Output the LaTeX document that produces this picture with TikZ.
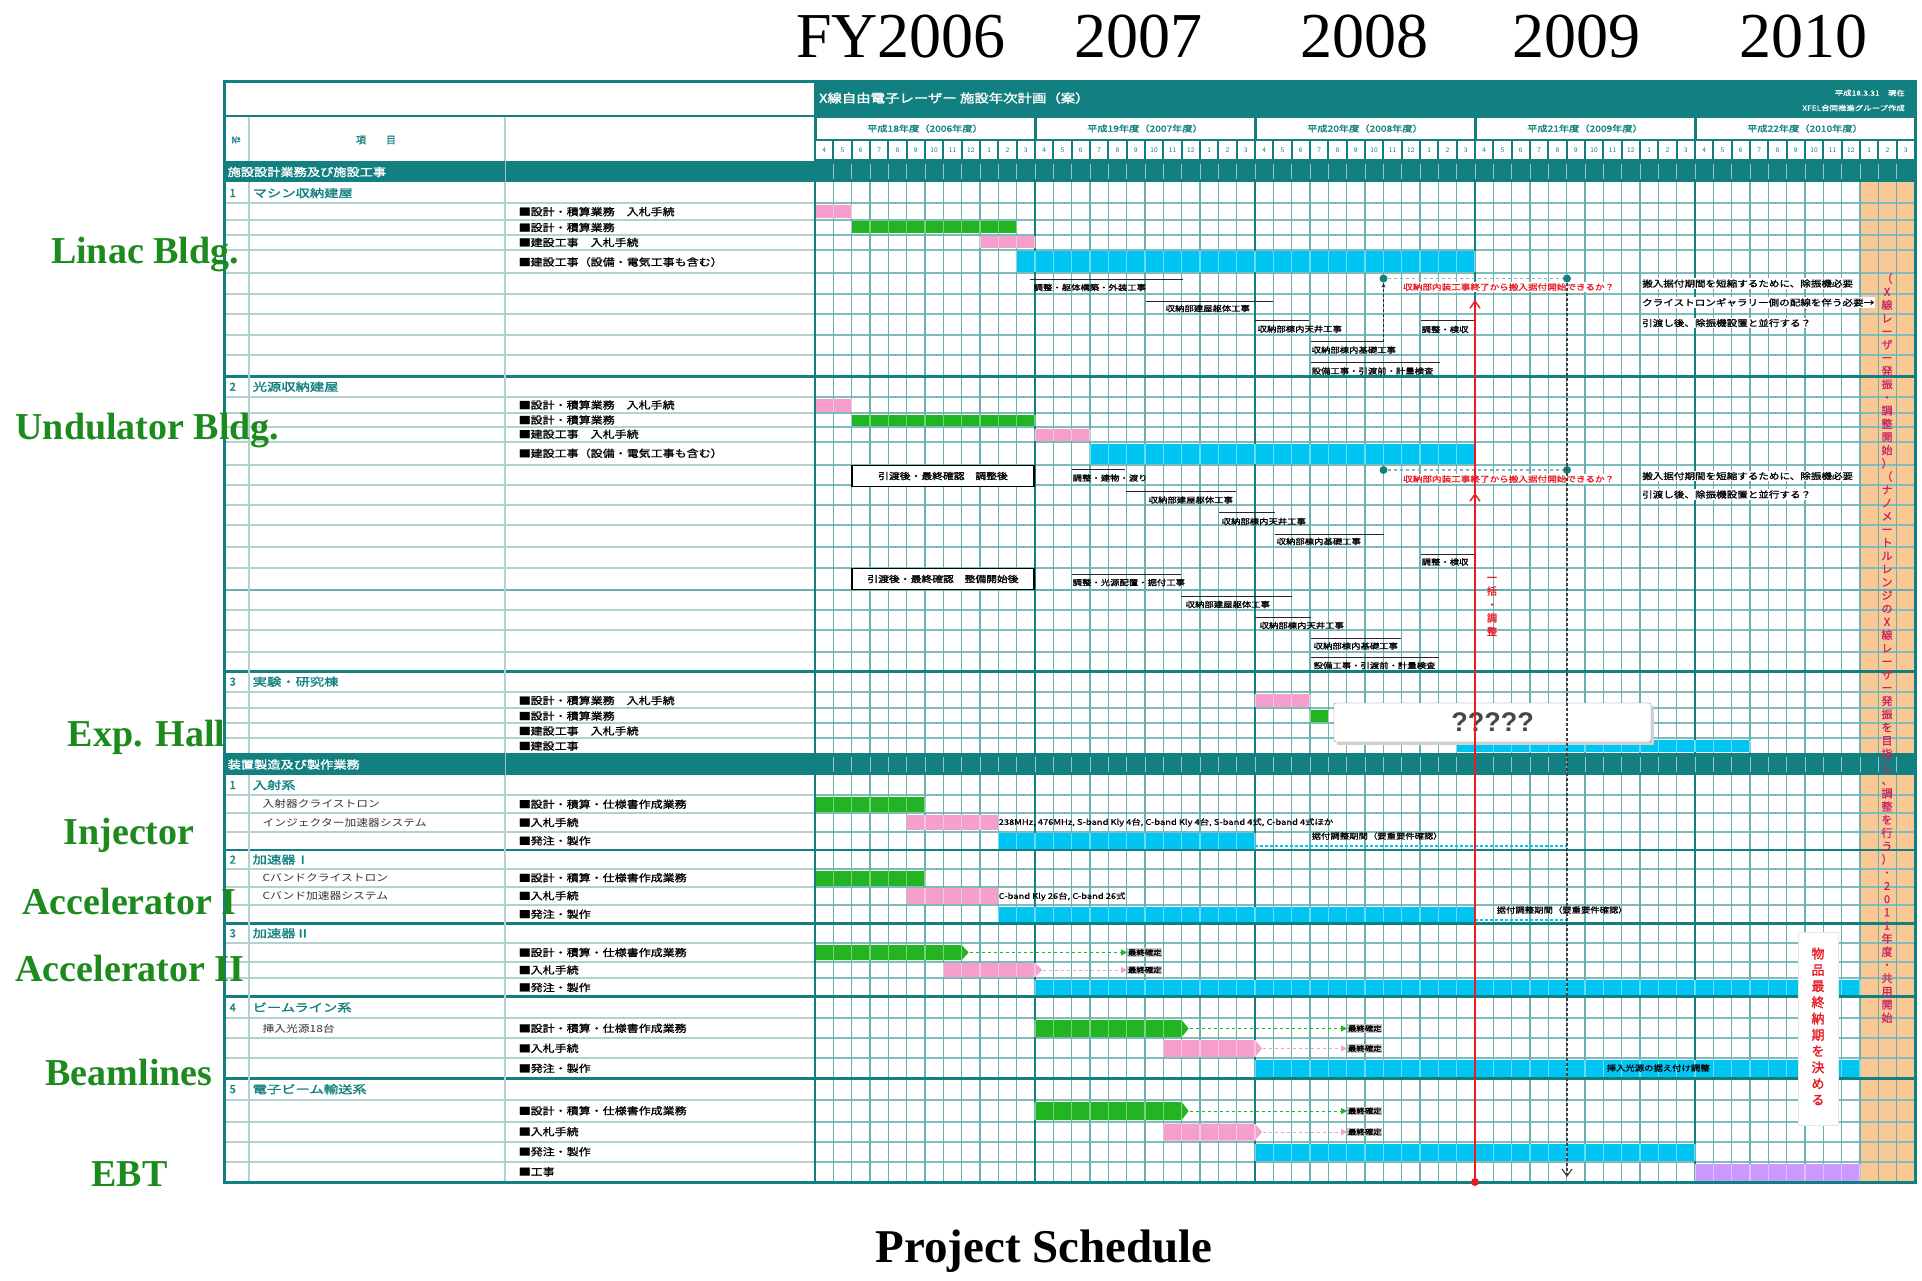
\documentclass[tikz,border=0pt]{standalone}
\usepackage{fontspec}
\setmainfont{Liberation Serif}
\newfontfamily\jp{Noto Sans CJK JP}
\newfontfamily\jpm[FakeBold=1]{Noto Sans CJK JP}
\newfontfamily\jpb[FakeBold=1.6]{Noto Sans CJK JP}
\newfontfamily\arial{Liberation Sans}
\usetikzlibrary{arrows.meta}
\definecolor{tealc}{RGB}{18,128,128}
\definecolor{gridc}{RGB}{105,176,176}
\definecolor{rowc}{RGB}{178,210,210}
\definecolor{pinkc}{RGB}{246,158,204}
\definecolor{greenc}{RGB}{34,180,34}
\definecolor{cyanc}{RGB}{0,196,242}
\definecolor{orangec}{RGB}{250,200,148}
\definecolor{purplec}{RGB}{204,153,255}
\definecolor{labgreen}{RGB}{28,138,28}
\definecolor{redc}{RGB}{232,28,36}
\definecolor{magc}{RGB}{200,36,100}
\newcommand\M[1]{{815+(#1)*18.3333}}
\newcommand\Mp[2]{{815+(#1)*18.3333+(#2)}}
\newcommand\sx[2][1.2]{\scalebox{#1}[1]{#2}}
\ExplSyntaxOn
\NewDocumentCommand \vstack { O{0.1em} m }
  {
    \vbox:n
      {
        \offinterlineskip
        \tl_map_inline:nn {#2}
          {
            \hbox_to_wd:nn {1.1em} { \hss \rule[-0.15em]{0pt}{1.05em} ##1 \hss }
            \skip_vertical:n {#1}
          }
      }
  }
\ExplSyntaxOff
\newcommand\gb[5]{\fill[#5] (\M{#1},#3) rectangle (\M{#2},#4);
  \foreach \k in {#1,...,#2} \draw[white, opacity=0.4, line width=1.1pt] (\M{\k},#3) -- (\M{\k},#4);}
\newcommand\tb[5]{\fill[#5] (\M{#1},#3) -- (\M{#2},#3) -- (\Mp{#2}{7},{(#3+#4)/2}) -- (\M{#2},#4) -- (\M{#1},#4) -- cycle;
  \foreach \k in {#1,...,#2} \draw[white, opacity=0.4, line width=1.1pt] (\M{\k},#3) -- (\M{\k},#4);}
\newcommand\ul[7]{\draw[ulline] (#1,#3) -- (#2,#3); \node[ulj] (#6) at (#4,#5) {\sx{#7}};}
\begin{document}
\begin{tikzpicture}[x=1pt,y=-1pt,
  lab/.style={font=\fontsize{38}{38}\selectfont\bfseries, text=labgreen, inner sep=0pt, anchor=base},
  yearst/.style={font=\fontsize{64}{64}\selectfont, inner sep=0pt, anchor=base},
  jpt/.style={font=\jpm\fontsize{10}{10}\selectfont, inner sep=0.5pt, anchor=west},
  subt/.style={font=\jp\fontsize{9.8}{9.8}\selectfont, text=black!80, inner sep=0.5pt, anchor=west},
  sect/.style={font=\jpb\fontsize{11}{11}\selectfont, text=tealc, inner sep=0.5pt, anchor=west},
  bandt/.style={font=\jpb\fontsize{11}{11}\selectfont, text=white, inner sep=0.5pt, anchor=west},
  ulj/.style={font=\jpm\fontsize{7.8}{7.8}\selectfont, inner sep=0.5pt, anchor=west},
  ulline/.style={black!85, line width=0.9pt},
  notet/.style={font=\jpm\fontsize{8.8}{8.8}\selectfont, fill=white, inner sep=1pt, anchor=west},
  redt/.style={font=\jpm\fontsize{8}{8}\selectfont, text=redc, fill=white, inner sep=1pt, anchor=west},
  fin/.style={font=\jpb\fontsize{7}{7}\selectfont, fill=black!22, inner sep=0.8pt, anchor=west},
  garr/.style={greenc, dashed, line width=1pt, -{Triangle[length=6pt,width=6pt]}},
  parr/.style={pinkc, dashed, line width=1pt, -{Triangle[length=6pt,width=6pt]}},
  tdot/.style={circle, fill=tealc, minimum size=8pt, inner sep=0pt},
  tick/.style={white!55!tealc, line width=1pt}
]
\useasboundingbox (0,0) rectangle (1922,1281);
\fill[white] (0,0) rectangle (1922,1281);

% orange column
\fill[orangec] (\M{57},182) rectangle (1915,1182);

% row lines
\foreach \y in {203.3,220,235,250,273.3,294,314,335,355,396.7,413.3,426.7,441.7,465,485,505,525,546.7,568.3,610,630,651.7,691.7,708.3,723.3,738.3,795,813.3,831.7,869,886.7,905,943.3,961.7,978.3,1018.3,1038.3,1058.3,1100,1121.7,1141.7,1161.7}
  {\draw[rowc, line width=2pt] (224,\y) -- (815,\y);
   \draw[gridc!85, line width=1.7pt] (815,\y) -- (1915,\y);}
\draw[gridc, line width=2.4pt] (224,590) -- (1915,590);

% month grid
\foreach \m in {1,...,59} \draw[gridc, line width=1.4pt] (\M{\m},182) -- (\M{\m},1182);
\foreach \k in {12,24,36,48} \draw[tealc, line width=2.2pt] (\M{\k},182) -- (\M{\k},1182);

% bars: section 1
\gb{0}{2}{205}{218.5}{pinkc}
\gb{2}{11}{221.5}{233.5}{greenc}
\gb{9}{12}{236.5}{248.5}{pinkc}
\gb{11}{36}{251.5}{272}{cyanc}
% section 2
\gb{0}{2}{399}{411.5}{pinkc}
\gb{2}{12}{415}{425.5}{greenc}
\gb{12}{15}{429}{440.5}{pinkc}
\gb{15}{36}{443.5}{463.5}{cyanc}
% section 3
\gb{24}{27}{693.5}{707}{pinkc}
\gb{27}{28}{710}{722}{greenc}
\gb{35}{51}{739.5}{752}{cyanc}
% injector
\gb{0}{6}{797}{812}{greenc}
\gb{5}{10}{815}{830}{pinkc}
\gb{10}{24}{833}{848.5}{cyanc}
% accelerator I
\gb{0}{6}{870.5}{885.5}{greenc}
\gb{5}{10}{888}{903.5}{pinkc}
\gb{10}{36}{906.5}{922}{cyanc}
% accelerator II
\tb{0}{8}{945}{960}{greenc}
\tb{7}{12}{963}{977}{pinkc}
\gb{12}{57}{979.5}{995.5}{cyanc}
% beamlines
\tb{12}{20}{1020}{1037}{greenc}
\tb{19}{24}{1040}{1057}{pinkc}
\gb{24}{57}{1060}{1077}{cyanc}
% EBT
\tb{12}{20}{1102}{1120}{greenc}
\tb{19}{24}{1123.5}{1140.5}{pinkc}
\gb{24}{48}{1143.5}{1160.5}{cyanc}
\gb{48}{57}{1163.5}{1180.5}{purplec}

% dashed cyan continuations
\coordinate (ic1) at (\M{24},846);
\coordinate (ic2) at (\M{41},846);
\draw[cyanc, densely dashed, line width=1.6pt] (ic1) -- (ic2);
\coordinate (ac1) at (\M{36},920);
\coordinate (ac2) at (\M{41},920);
\draw[cyanc, densely dashed, line width=1.6pt] (ac1) -- (ac2);

% section lines
\foreach \y in {376.7,671.7,850,923.3,996.7,1078.3} \draw[tealc, line width=2.6pt] (224,\y) -- (1915,\y);

% column lines
\draw[rowc, line width=2pt] (249,116) -- (249,1182);
\draw[rowc, line width=2pt] (505,116) -- (505,1182);
\draw[tealc, line width=2.4pt] (815,82) -- (815,1182);

% bands
\fill[tealc] (224,161) rectangle (1915,182);
\fill[tealc] (224,753.3) rectangle (1915,775);
\foreach \m in {1,...,59} {\draw[tick] (\M{\m},164) -- (\M{\m},179); \draw[tick] (\M{\m},756.5) -- (\M{\m},772);}
\draw[tick] (505,161) -- (505,182);
\draw[tick] (505,753.3) -- (505,775);

% header
\fill[tealc] (815,82) rectangle (1915,161);
\foreach \k in {0,...,4} \fill[white] ({815+220*\k+1.5},118) rectangle ({815+220*(\k+1)-1.5},139);
\foreach \m in {0,...,59} \fill[white] (\Mp{\m}{1},141.5) rectangle (\Mp{\m+1}{-1},159.5);
\draw[tealc, line width=2.2pt] (224,116) -- (815,116);

% frame
\draw[tealc, line width=3pt] (224,82) rectangle (1915,1182);

% header texts
\node[font=\jpb\fontsize{12}{12}\selectfont, text=white, anchor=west, inner sep=0pt] (title) at (819,98) {\sx{X線自由電子レーザー 施設年次計画（案）}};
\node[font=\jpm\fontsize{7}{7}\selectfont, text=white, anchor=east, inner sep=0pt] (date) at (1905,93) {\sx{平成18.3.31　現在}};
\node[font=\jpm\fontsize{7}{7}\selectfont, text=white, anchor=east, inner sep=0pt] (grp) at (1905,108) {\sx{XFEL合同推進グループ作成}};
\foreach \k in {0,...,4} {
  \pgfmathtruncatemacro\hy{18+\k}
  \pgfmathtruncatemacro\fy{2006+\k}
  \node[font=\jpb\fontsize{8.5}{8.5}\selectfont, text=tealc, inner sep=0pt] (fy\k) at ({925+220*\k},128.5) {\sx{平成\hy 年度（\fy 年度）}};
}
\foreach \m in {0,...,59} {
  \pgfmathtruncatemacro\mo{mod(\m+3,12)+1}
  \node[font=\sffamily\fontsize{7}{7}\selectfont, text=tealc, inner sep=0pt] (mo\m) at (\Mp{\m}{9.17},150.5) {\mo};
}
\node[font=\jpb\fontsize{9}{9}\selectfont, text=tealc, inner sep=0pt] (no) at (236,140) {№};
\node[font=\jpb\fontsize{10}{10}\selectfont, text=tealc, inner sep=0pt] (item) at (376,140) {項　　目};
\node[bandt] (b1) at (227,172) {\sx{施設設計業務及び施設工事}};
\node[bandt] (b2) at (227,764.5) {\sx{装置製造及び製作業務}};

% section headers
\node[sect] (s1a) at (229,193) {1};      \node[sect] (s1) at (252,193) {\sx[1.3]{マシン収納建屋}};
\node[sect] (s2a) at (229,386.7) {2};    \node[sect] (s2) at (252,386.7) {\sx[1.3]{光源収納建屋}};
\node[sect] (s3a) at (229,681.7) {3};    \node[sect] (s3) at (252,681.7) {\sx[1.3]{実験・研究棟}};
\node[sect] (s4a) at (229,785) {1};      \node[sect] (s4) at (252,785) {\sx[1.3]{入射系}};
\node[sect] (s5a) at (229,859.5) {2};    \node[sect] (s5) at (252,859.5) {\sx[1.3]{加速器Ⅰ}};
\node[sect] (s6a) at (229,933.3) {3};    \node[sect] (s6) at (252,933.3) {\sx[1.3]{加速器Ⅱ}};
\node[sect] (s7a) at (229,1007.5) {4};   \node[sect] (s7) at (252,1007.5) {\sx[1.3]{ビームライン系}};
\node[sect] (s8a) at (229,1089.2) {5};   \node[sect] (s8) at (252,1089.2) {\sx[1.3]{電子ビーム輸送系}};

% sub items
\node[subt] (i1) at (262,804.2) {\sx{入射器クライストロン}};
\node[subt] (i2) at (262,822.5) {\sx{インジェクター加速器システム}};
\node[subt] (i3) at (262,877.8) {\sx{Cバンドクライストロン}};
\node[subt] (i4) at (262,895.8) {\sx{Cバンド加速器システム}};
\node[subt] (i5) at (262,1028.3) {\sx{挿入光源18台}};

% description items
\node[jpt] (a1) at (518,211.7) {\sx{■設計・積算業務　入札手続}};
\node[jpt] (a2) at (518,227.5) {\sx{■設計・積算業務}};
\node[jpt] (a3) at (518,242.5) {\sx{■建設工事　入札手続}};
\node[jpt] (a4) at (518,262) {\sx{■建設工事（設備・電気工事も含む）}};
\node[jpt] (c1) at (518,405) {\sx{■設計・積算業務　入札手続}};
\node[jpt] (c2) at (518,420) {\sx{■設計・積算業務}};
\node[jpt] (c3) at (518,434.2) {\sx{■建設工事　入札手続}};
\node[jpt] (c4) at (518,453.3) {\sx{■建設工事（設備・電気工事も含む）}};
\node[jpt] (e1) at (518,700.5) {\sx{■設計・積算業務　入札手続}};
\node[jpt] (e2) at (518,716) {\sx{■設計・積算業務}};
\node[jpt] (e3) at (518,731) {\sx{■建設工事　入札手続}};
\node[jpt] (e4) at (518,746) {\sx{■建設工事}};
\foreach \n/\y in {j/804.2, k/877.8, l/952.5, m/1028.3, n/1110.8} {
  \node[jpt] (\n1) at (518,\y) {\sx{■設計・積算・仕様書作成業務}};
}
\foreach \n/\y in {j/822.5, k/895.8, l/970, m/1048.3, n/1131.7} {
  \node[jpt] (\n2) at (518,\y) {\sx{■入札手続}};
}
\foreach \n/\y in {j/840.8, k/914.2, l/987.5, m/1068.3, n/1151.7} {
  \node[jpt] (\n3) at (518,\y) {\sx{■発注・製作}};
}
\node[jpt] (n4) at (518,1171.7) {\sx{■工事}};

% gantt annotations: section 1
\ul{1030}{1183}{279.3}{1033}{287.5}{u1}{調整・躯体構築・外装工事}
\ul{1146}{1273}{301}{1165}{308.5}{u2}{収納部建屋躯体工事}
\ul{1255}{1309}{320}{1257}{329}{u3}{収納部棟内天井工事}
\ul{1311}{1384}{341.7}{1311}{350}{u4}{収納部棟内基礎工事}
\ul{1311}{1440}{362.7}{1311}{371}{u5}{設備工事・引渡前・計量検査}
\ul{1421}{1475}{320.7}{1421}{329.5}{u6}{調整・検収}
% section 2
\node[draw=black, line width=1.2pt, fill=white, minimum width=182pt, minimum height=21pt, inner sep=0pt, font=\jpb\fontsize{9}{9}\selectfont] (bx1) at (943,476) {\sx{引渡後・最終確認　調整後}};
\node[draw=black, line width=1.2pt, fill=white, minimum width=182pt, minimum height=21pt, inner sep=0pt, font=\jpb\fontsize{9}{9}\selectfont] (bx2) at (943,579) {\sx{引渡後・最終確認　整備開始後}};
\ul{1072}{1125}{469.3}{1072}{478}{v1}{調整・建物・渡り}
\ul{1126}{1236}{491.7}{1148}{500}{v2}{収納部建屋躯体工事}
\ul{1219}{1274.5}{512.7}{1221}{521.5}{v3}{収納部棟内天井工事}
\ul{1274.5}{1383.6}{534}{1276}{541.5}{v4}{収納部棟内基礎工事}
\ul{1421}{1475}{554}{1421}{562}{v5}{調整・検収}
\ul{1072}{1181}{574}{1072}{582.5}{v6}{調整・光源配置・据付工事}
\ul{1181}{1292}{596}{1185}{604.5}{v7}{収納部建屋躯体工事}
\ul{1255}{1311}{617.3}{1259}{625.5}{v8}{収納部棟内天井工事}
\ul{1311}{1401}{638.3}{1313}{646}{v9}{収納部棟内基礎工事}
\ul{1311}{1439}{657.3}{1313}{665.5}{v10}{設備工事・引渡前・計量検査}

% bar texts
\node[ulj] (itx) at (998,822.5) {\sx{238MHz, 476MHz, S-band Kly 4台, C-band Kly 4台, S-band 4式, C-band 4式ほか}};
\node[ulj] (itx2) at (1311,836) {\sx{据付調整期間（要重要件確認）}};
\node[ulj] (atx) at (998,896.5) {\sx{C-band Kly 26台, C-band 26式}};
\node[ulj] (atx2) at (1496,910) {\sx{据付調整期間（要重要件確認）}};
\node[ulj] (btx) at (1606,1068) {\sx{挿入光源の据え付け調整}};

% dashed arrows to milestone labels
\node[fin] (f1) at (1127,952.5) {\sx{最終確定}};
\node[fin] (f2) at (1127,970) {\sx{最終確定}};
\node[fin] (f3) at (1347,1028.5) {\sx{最終確定}};
\node[fin] (f4) at (1347,1048.5) {\sx{最終確定}};
\node[fin] (f5) at (1347,1111) {\sx{最終確定}};
\node[fin] (f6) at (1347,1132) {\sx{最終確定}};
\coordinate (g1) at (\Mp{8}{8},952.5);
\coordinate (p1) at (\Mp{12}{8},970);
\coordinate (g2) at (\Mp{20}{8},1028.5);
\coordinate (p2) at (\Mp{24}{8},1048.5);
\coordinate (g3) at (\Mp{20}{8},1111);
\coordinate (p3) at (\Mp{24}{8},1132);
\draw[garr] (g1) -- (f1.west);
\draw[parr] (p1) -- (f2.west);
\draw[garr] (g2) -- (f3.west);
\draw[parr] (p2) -- (f4.west);
\draw[garr] (g3) -- (f5.west);
\draw[parr] (p3) -- (f6.west);

% exp hall box
\fill[black!18] (1337,706) rectangle (1654,745);
\node[draw=black!50, fill=white, rounded corners=2pt, minimum width=317pt, minimum height=39pt, inner sep=0pt, font=\arial\bfseries\fontsize{27}{27}\selectfont, text=black!72] (qbox) at (1492.5,722.5) {?????};

% notes
\node[redt] (rt1) at (1402,287) {\sx{収納部内装工事終了から搬入据付開始できるか？}};
\node[redt] (rt2) at (1402,479) {\sx{収納部内装工事終了から搬入据付開始できるか？}};
\node[notet] (n1x) at (1641,283.5) {\sx{搬入据付期間を短縮するために、除振機必要}};
\node[notet] (n2x) at (1641,302.5) {\sx{クライストロンギャラリー側の配線を伴う必要→}};
\node[notet] (n3x) at (1641,323) {\sx{引渡し後、除振機設置と並行する？}};
\node[notet] (n4x) at (1641,476) {\sx{搬入据付期間を短縮するために、除振機必要}};
\node[notet] (n5x) at (1641,494.5) {\sx{引渡し後、除振機設置と並行する？}};

% dots and dashed links
\node[tdot] (d1) at (1383.5,278.5) {};
\node[tdot] (d2) at (1567,278.5) {};
\node[tdot] (d3) at (1383.5,470) {};
\node[tdot] (d4) at (1567,470) {};
\draw[tealc!55, dashed, line width=1.2pt] (d1) -- (d2);
\draw[tealc!55, dashed, line width=1.2pt] (d3) -- (d4);
\coordinate (lk) at (1383.5,341.7);
\draw[black!85, densely dashed, line width=1pt, -{Stealth[length=5pt]}] (lk) -- (d1);

% red vertical line
\coordinate (rTop) at (1475,300);
\coordinate (rBot) at (1475,1182);
\draw[redc, line width=1.4pt] (rTop) -- (rBot);
\coordinate (ra1) at (1475,314);
\coordinate (ra2) at (1475,507);
\coordinate (ra2t) at (1475,493);
\draw[redc, line width=1.4pt, -{Straight Barb[length=7pt,width=10pt]}] (ra1) -- (rTop);
\draw[redc, line width=1.4pt, -{Straight Barb[length=7pt,width=10pt]}] (ra2) -- (ra2t);
\node[circle, fill=redc, minimum size=8pt, inner sep=0pt] (rdot) at (1475,1182) {};
\node[text=redc, font=\jpb\fontsize{10}{10}\selectfont, inner sep=0pt] (rv) at (1492,606) {\vstack[0.3em]{一括・調整}};

% black dotted line
\coordinate (bTop) at (1567,283);
\coordinate (bBot) at (1567,1177);
\draw[black!75, densely dashed, line width=1.2pt, -{Straight Barb[length=7pt,width=10pt]}] (bTop) -- (bBot);

% vertical red note
\node[fill=white, draw=black!10, minimum width=40pt, minimum height=193pt, inner sep=0pt] (vbox) at (1818,1028.5) {};
\node[text=redc, font=\jpb\fontsize{13}{13}\selectfont, inner sep=0pt] (vtxt) at (1818,1028) {\vstack[0.2em]{物品最終納期を決める}};

% vertical text in orange column
\node[text=magc, font=\jpm\fontsize{11}{11}\selectfont, inner sep=0pt] (otxt) at (1887,649) {\vstack[0.15em]{（X線レーザー発振・調整開始）（ナノメートルレンジのX線レーザー発振を目指し、調整を行う）・2011年度・共用開始}};

% left labels
\node[lab] (lLinac) at (145,264) {Linac Bldg.};
\node[lab] (lUnd) at (147.5,439) {Undulator Bldg.};
\node[lab] (lExp) at (146.5,746) {Exp. Hall};
\node[lab] (lInj) at (129,844) {Injector};
\node[lab] (lAcc1) at (129.5,914) {Accelerator I};
\node[lab] (lAcc2) at (130,981) {Accelerator II};
\node[lab] (lBeam) at (129,1085) {Beamlines};
\node[lab] (lEBT) at (129.5,1186) {EBT};

% years
\node[yearst] (y06) at (901,58) {FY2006};
\node[yearst] (y07) at (1138,58) {2007};
\node[yearst] (y08) at (1364,58) {2008};
\node[yearst] (y09) at (1576,58) {2009};
\node[yearst] (y10) at (1803,58) {2010};

% caption
\node[font=\fontsize{47}{47}\selectfont\bfseries, inner sep=0pt, anchor=base] (cap) at (1044,1262) {Project Schedule};
\end{tikzpicture}
\end{document}
